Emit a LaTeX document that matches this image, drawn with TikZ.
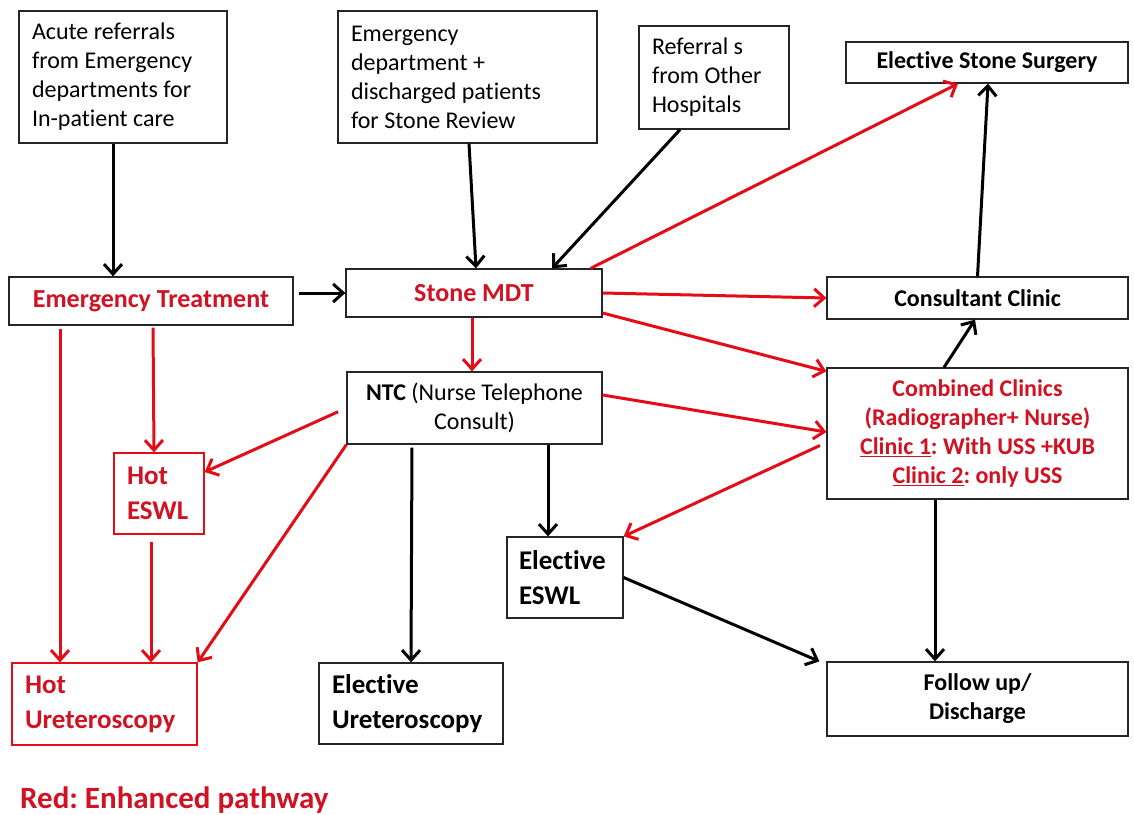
\documentclass[tikz,border=0pt]{standalone}
\usepackage{fontspec}
\setmainfont{Carlito}[Ligatures=NoCommon]
\frenchspacing
\usetikzlibrary{arrows.meta, positioning}
\definecolor{pathred}{RGB}{228,12,22}
\definecolor{labelred}{RGB}{208,18,34}
\tikzstyle{block} = [rectangle, draw=black!85, line width=1.3pt, inner xsep=13pt, inner ysep=0pt, font=\fontsize{24}{29}\selectfont]
\tikzstyle{leftblock} = [block, align=flush left]
\tikzstyle{midblock} = [block, align=center]
\tikzstyle{boldblock} = [midblock, font=\fontsize{24}{29}\selectfont\bfseries]
\tikzstyle{redblock} = [midblock, text=labelred, font=\fontsize{26}{31}\selectfont\bfseries]
\tikzstyle{elective} = [block, align=flush left, font=\fontsize{27}{35}\selectfont\bfseries]
\tikzstyle{hot} = [elective, draw=pathred, text=labelred]
\tikzstyle{arrow} = [line width=3pt, ->, >={Straight Barb[length=10pt,width=18pt]}]
\tikzstyle{redarrow} = [arrow, draw=pathred]

\begin{document}
\begin{tikzpicture}[x=1pt, y=-1pt]

    \fill [white] (0,0) rectangle (1134,814);

    % Referral sources
    \node (acute) [leftblock, text width=182pt, minimum height=132pt] at (123,77) {Acute referrals\\from Emergency\\departments for\\In-patient\ care};
    \node (edrev) [leftblock, text width=233pt, minimum height=132pt] at (467.5,77) {Emergency\\department +\\discharged patients\\for Stone Review};
    \node (other) [leftblock, text width=124pt, minimum height=103pt] at (714,77.5) {Referral s\\from Other\\Hospitals};

    % Main pathway
    \node (emt) [redblock, minimum width=284pt, minimum height=48pt] at (151,301) {Emergency\ Treatment};
    \node (mdt) [redblock, minimum width=256pt, minimum height=48pt] at (474,293) {Stone\ MDT};
    \node (ntc) [midblock, minimum width=255pt, minimum height=72pt] at (474.5,408) {\textbf{NTC} (Nurse Telephone\\Consult)};

    % Clinics
    \node (surgery) [boldblock, minimum width=282pt, minimum height=41pt] at (987,62.5) {Elective Stone Surgery};
    \node (consult) [boldblock, minimum width=301pt, minimum height=42pt] at (977.5,298) {Consultant Clinic};
    \node (combined) [boldblock, text=labelred, minimum width=301pt, minimum height=131pt] at (977.5,433.5) {Combined Clinics\\(Radiographer+ Nurse)\\\underline{Clinic 1}: With USS +KUB\\\underline{Clinic 2}: only USS};
    \node (follow) [boldblock, minimum width=301pt, minimum height=74pt] at (977.5,699) {Follow up/\\Discharge};

    % Treatments
    \node (hoteswl) [hot, text width=64pt, minimum height=81pt] at (159,493.5) {Hot\\ESWL};
    \node (hoturs) [hot, text width=159pt, minimum height=82pt] at (104.5,704) {Hot\\Ureteroscopy};
    \node (elurs) [elective, text width=158pt, minimum height=81pt] at (411,703.5) {Elective\\Ureteroscopy};
    \node (eleswl) [elective, inner xsep=12pt, text width=92pt, minimum height=81pt] at (565,577.5) {Elective\\ESWL};

    \node (legend) [anchor=base west, inner sep=0pt, text=labelred, font=\fontsize{31}{37}\selectfont\bfseries] at (20,808) {Red: Enhanced pathway};

    % ==== Arrows
    % Referrals
    \draw [arrow] ([xshift=-10pt]acute.south) -- ([xshift=-38pt]emt.north);
    \draw [arrow] ([xshift=1.5pt]edrev.south) -- ([xshift=2pt]mdt.north);
    \draw [arrow] ([xshift=-34pt]other.south) -- ([xshift=78pt]mdt.north);
    \draw [arrow, shorten <=5pt] ([yshift=8pt]emt.east) -- (mdt.west);

    % Stone MDT
    \draw [redarrow] ([xshift=-12pt]mdt.north east) -- ([xshift=-29pt]surgery.south);
    \draw [redarrow] (mdt.east) -- (consult.west);
    \draw [redarrow] ([yshift=-20pt]mdt.east) -- ([yshift=-4pt]combined.north west);
    \draw [redarrow] ([xshift=-2pt]mdt.south) -- ([xshift=-2.5pt]ntc.north);

    % Clinics
    \draw [arrow] (consult.north) -- ([xshift=1pt]surgery.south);
    \draw [arrow] ([xshift=-33.5pt]combined.north) -- ([xshift=-2.5pt]consult.south);
    \draw [arrow] ([xshift=-42.5pt]combined.south) -- ([xshift=-42.5pt]follow.north);
    \draw [redarrow, shorten <=7pt] ([yshift=-9pt]combined.west) -- (eleswl.north east);
    \draw [arrow] (eleswl.east) -- ([xshift=-7pt]follow.north west);

    % NTC
    \draw [redarrow] ([yshift=13pt]ntc.east) -- ([yshift=1.5pt]combined.west);
    \draw [arrow] ([xshift=73.5pt]ntc.south) -- ([xshift=-17pt]eleswl.north);
    \draw [arrow, shorten <=3pt] ([xshift=-62.5pt]ntc.south) -- (elurs.north);
    \draw [redarrow, shorten <=9pt] (ntc.west) -- ([yshift=21.5pt]hoteswl.east);
    \draw [redarrow] (ntc.south west) -- (hoturs.north east);

    % Emergency treatment
    \draw [redarrow, shorten <=2pt] ([xshift=2pt]emt.south) -- ([xshift=-5pt]hoteswl.north);
    \draw [redarrow, shorten <=3pt] ([xshift=-91pt]emt.south) -- ([xshift=-44.5pt]hoturs.north);
    \draw [redarrow, shorten <=7pt] ([xshift=-8pt]hoteswl.south) -- ([xshift=46.5pt]hoturs.north);

\end{tikzpicture}
\end{document}
